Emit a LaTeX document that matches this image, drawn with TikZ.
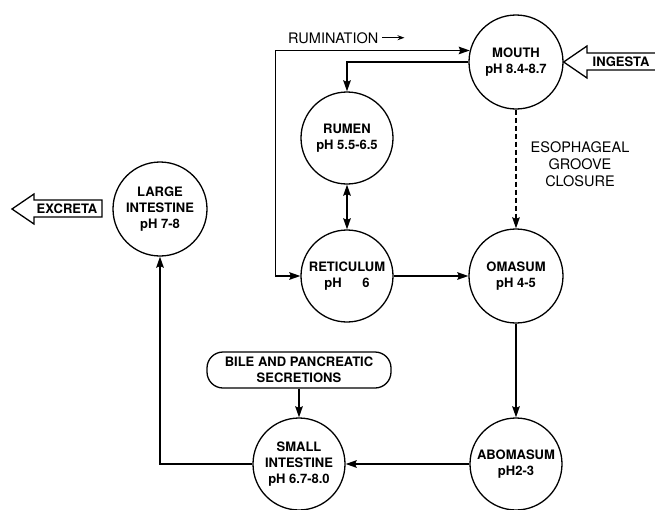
\documentclass[tikz,border=0pt]{standalone}
\usepackage{fontspec}
\setmainfont{TeX Gyre Heros}
\usetikzlibrary{arrows.meta,calc}
\tikzset{
  organ/.style={circle, draw, line width=1.3pt, minimum size=#1, inner sep=0pt, align=center,
    font=\bfseries\fontsize{13}{16}\selectfont},
  conn/.style={line width=1.6pt, -{Stealth[length=11pt,width=7.5pt,inset=1.5pt]}},
  dconn/.style={line width=1.6pt, {Stealth[length=11pt,width=7.5pt,inset=1.5pt]}-{Stealth[length=11pt,width=7.5pt,inset=1.5pt]}},
  lbl/.style={font=\fontsize{14.5}{17}\selectfont, align=center, inner sep=0pt},
  boxtxt/.style={font=\bfseries\fontsize{13}{16}\selectfont, inner sep=0pt},
  hollow/.style={draw, line width=1.3pt, line join=miter},
  bilebox/.style={draw, line width=1.3pt, rounded corners=16pt, minimum width=184pt, minimum height=36pt,
    align=center, inner sep=0pt, font=\bfseries\fontsize{13}{16}\selectfont},
}
\begin{document}
\begin{tikzpicture}[x=1pt,y=-1pt]
\useasboundingbox (0,0) rectangle (655,509);
\clip (0,0) rectangle (655,509);

% organs
\node[organ=94] (mouth) at (516,62) {MOUTH\\pH 8.4-8.7};
\node[organ=92] (rumen) at (347,138) {RUMEN\\pH 5.5-6.5};
\node[organ=92] (reticulum) at (347,276) {RETICULUM\\pH\hspace{1.6em}6};
\node[organ=94] (omasum) at (516,276) {OMASUM\\pH 4-5};
\node[organ=92] (abomasum) at (516,464) {ABOMASUM\\pH2-3};
\node[organ=92] (small) at (299,464) {SMALL\\INTESTINE\\pH 6.7-8.0};
\node[organ=94] (large) at (160,209) {LARGE\\INTESTINE\\pH 7-8};
\node[bilebox] (bile) at (299,370) {BILE AND PANCREATIC\\SECRETIONS};

% labels
\node[lbl, anchor=base west] (rumlabel) at (288,43) {RUMINATION};
\draw[line width=1.2pt, -{Stealth[length=7pt,width=5pt]}] ([xshift=4pt]rumlabel.east) -- ++(22,0);
\node[lbl] (esoph) at (580,164) {ESOPHAGEAL\\GROOVE\\CLOSURE};

% ingesta hollow arrow
\draw[hollow] (655,53) -- (587,53) -- (587,46) -- (mouth.east) -- (587,78) -- (587,70) -- (655,70);
\node[boxtxt] (ingesta) at (621,62) {INGESTA};

% excreta hollow arrow
\draw[hollow] (102,200) -- (34,200) -- (34,194) -- (12,209) -- (34,224) -- (34,217) -- (102,217) -- cycle;
\node[boxtxt] (excreta) at (67,209) {EXCRETA};

% connectors
\draw[dconn] (reticulum.west) -- ++(-25,0) |- (mouth.166);
\draw[conn] (mouth.west) -| (rumen.north);
\draw[dconn] (rumen.south) -- (reticulum.north);
\draw[conn] (reticulum.east) -- (omasum.west);
\draw[conn, dash pattern=on 5pt off 3pt, line width=1.4pt] (mouth.south) -- (omasum.north);
\draw[conn] (omasum.south) -- (abomasum.north);
\draw[conn] (abomasum.west) -- (small.east);
\draw[conn] (bile.south) -- (small.north);
\draw[conn] (small.west) -| (large.south);
\end{tikzpicture}
\end{document}
